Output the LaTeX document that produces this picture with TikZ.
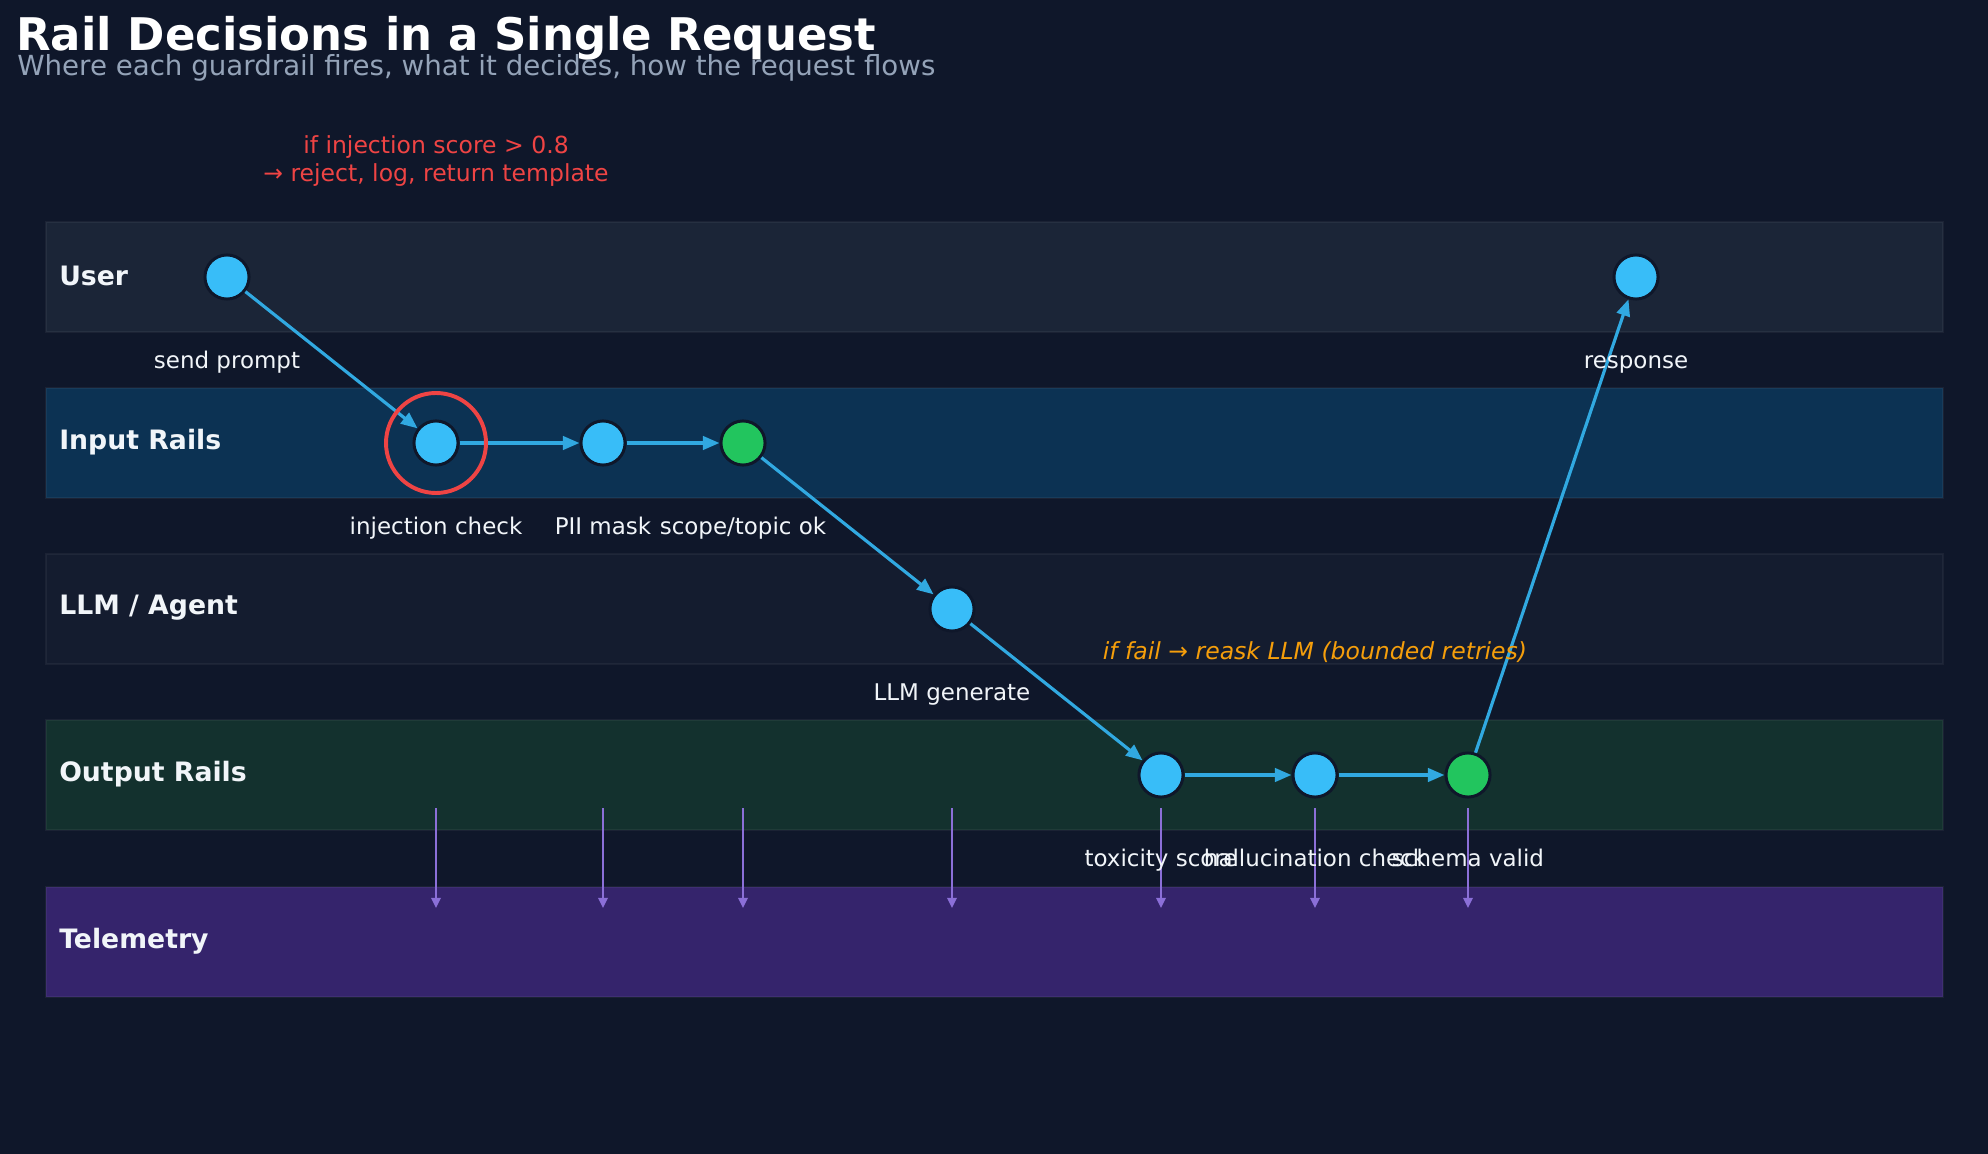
\documentclass[tikz,border=0pt]{standalone}
\usepackage{fontspec}
\setmainfont{DejaVu Sans}
\usetikzlibrary{arrows.meta,positioning}

\definecolor{bgnavy}{HTML}{0F172A}
\definecolor{laneuser}{HTML}{1B2537}
\definecolor{laneinput}{HTML}{0C3253}
\definecolor{lanellm}{HTML}{141C2F}
\definecolor{laneout}{HTML}{13312E}
\definecolor{lanetele}{HTML}{35246C}
\definecolor{stepblue}{HTML}{38BDF8}
\definecolor{stepgreen}{HTML}{22C55E}
\definecolor{flowblue}{HTML}{31A9E1}
\definecolor{telepurple}{HTML}{8B6FD8}
\definecolor{alertred}{HTML}{EF4444}
\definecolor{retryorange}{HTML}{F59E0B}
\definecolor{subgrey}{HTML}{94A3B8}
\definecolor{labelwhite}{HTML}{F1F5F9}

\begin{document}
\begin{tikzpicture}[x=0.254mm, y=-0.254mm,
  lane/.style={draw=white, draw opacity=0.05, line width=0.5mm},
  lanename/.style={anchor=west, inner sep=0pt, text=labelwhite, font=\fontsize{19.3}{22}\selectfont\bfseries},
  stepnode/.style={circle, fill=stepblue, draw=bgnavy, line width=0.76mm, minimum size=11.2mm, inner sep=0pt},
  passnode/.style={stepnode, fill=stepgreen},
  steplabel/.style={text=labelwhite, font=\fontsize{16.6}{19}\selectfont, text height=0.76em, text depth=0.24em},
  flow/.style={-{Triangle[length=4.2mm,width=3.4mm]}, draw=flowblue, line width=0.8mm},
  tele/.style={-{Triangle[length=2.6mm,width=2.4mm]}, draw=telepurple, line width=0.5mm},
]
\fill[bgnavy] (0,0) rectangle (1988,1154);
\useasboundingbox (0,0) rectangle (1988,1154);

% title
\node[anchor=base west, inner sep=0pt, text=white, font=\fontsize{32.5}{36}\selectfont\bfseries] (title) at (16,51) {Rail Decisions in a Single Request};
\node[anchor=base west, inner sep=0pt, text=subgrey, font=\fontsize{20}{23}\selectfont] (subtitle) at (17,76) {Where each guardrail fires, what it decides, how the request flows};

% swimlanes
\fill[laneuser, lane] (46,222) rectangle (1943,332);
\fill[laneinput, lane] (46,388) rectangle (1943,498);
\fill[lanellm, lane] (46,554) rectangle (1943,664);
\fill[laneout, lane] (46,720) rectangle (1943,830);
\fill[lanetele, lane] (46,887) rectangle (1943,997);

\node[lanename] (usertitle) at (59,276) {User};
\node[lanename] (inputtitle) at (59,442) {Input Rails};
\node[lanename] (llmtitle) at (59,608) {LLM / Agent};
\node[lanename] (outputtitle) at (59,774) {Output Rails};
\node[lanename] (teletitle) at (59,941) {Telemetry};

% steps
\node[stepnode] (prompt) at (227,277) {};
\node[stepnode] (inj) at (436,443) {};
\node[stepnode] (pii) at (603,443) {};
\node[passnode] (scope) at (743,443) {};
\node[stepnode] (llm) at (952,609) {};
\node[stepnode] (tox) at (1161,775) {};
\node[stepnode] (hall) at (1315,775) {};
\node[passnode] (schema) at (1468,775) {};
\node[stepnode] (resp) at (1636,277) {};

% telemetry taps
\coordinate (tapstart) at (0,808);
\coordinate (tapend) at (0,908);
\foreach \n in {inj,pii,scope,llm,tox,hall,schema}
  \draw[tele] (\n |- tapstart) -- (\n |- tapend);

% request flow
\draw[flow] (prompt) -- (inj);
\draw[flow] (inj) -- (pii);
\draw[flow] (pii) -- (scope);
\draw[flow] (scope) -- (llm);
\draw[flow] (llm) -- (tox);
\draw[flow] (tox) -- (hall);
\draw[flow] (hall) -- (schema);
\draw[flow] (schema) -- (resp);

\node[circle, draw=alertred, line width=1mm, minimum size=25.4mm, inner sep=0pt] (injring) at (inj) {};

% step labels
\node[steplabel] (promptlbl) at (227,365) {send prompt};
\node[steplabel] (injlbl) at (436,531) {injection check};
\node[steplabel] (piilbl) at (603,531) {PII mask};
\node[steplabel] (scopelbl) at (743,531) {scope/topic ok};
\node[steplabel] (llmlbl) at (952,697) {LLM generate};
\node[steplabel] (toxlbl) at (1161,863) {toxicity score};
\node[steplabel] (halllbl) at (1315,863) {hallucination check};
\node[steplabel] (schemalbl) at (1468,863) {schema valid};
\node[steplabel] (resplbl) at (1636,365) {response};

% annotations
\node[align=center, text=alertred, font=\fontsize{17}{20.9}\selectfont] (injnote) at (436,161) {if injection score > 0.8\\→ reject, log, return template};
\node[text=retryorange, font=\fontsize{17}{20}\selectfont\itshape] (retrynote) at (1315,652) {if fail → reask LLM (bounded retries)};
\end{tikzpicture}
\end{document}
